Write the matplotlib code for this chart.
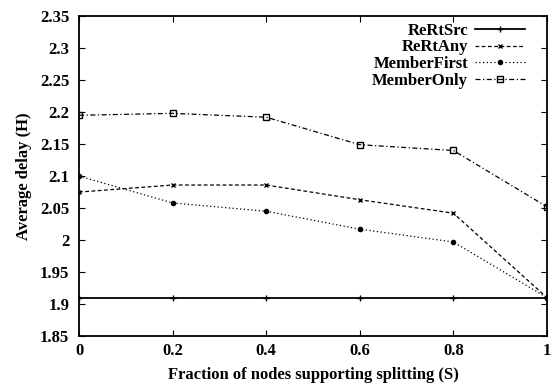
import matplotlib
matplotlib.use("Agg")
import matplotlib.pyplot as plt

plt.rcParams['font.family'] = ['Liberation Serif', 'DejaVu Serif']

fraction = [0, 0.2, 0.4, 0.6, 0.8, 1.0]
rertsrc = [1.91, 1.91, 1.91, 1.91, 1.91, 1.91]
rertany = [2.075, 2.086, 2.086, 2.063, 2.042, 1.91]
member_first = [2.10, 2.058, 2.045, 2.017, 1.997, 1.91]
member_only = [2.195, 2.198, 2.192, 2.149, 2.14, 2.052]

fig = plt.figure(figsize=(5.53, 3.84), dpi=100)
ax = fig.add_axes([0.143, 0.125, 0.846, 0.833])

ax.plot(fraction, rertsrc, color='black', lw=1.3, marker='+', ms=5, label='ReRtSrc')
ax.plot(fraction, rertany, color='black', lw=0.9, ls=(0, (3, 2)), marker='x', ms=3, label='ReRtAny')
ax.plot(fraction, member_first, color='black', lw=0.9, ls=(0, (1, 2)), marker='o', ms=3, label='MemberFirst')
ax.plot(fraction, member_only, color='black', lw=0.9, ls=(0, (4, 2, 1, 2)), marker='s', ms=4,
        mfc='none', label='MemberOnly')

ax.set_xlim(0, 1)
ax.set_ylim(1.85, 2.35)
ax.set_xticks(fraction)
ax.set_xticklabels(['0', '0.2', '0.4', '0.6', '0.8', '1'])
yt = [1.85, 1.9, 1.95, 2.0, 2.05, 2.1, 2.15, 2.2, 2.25, 2.3, 2.35]
ax.set_yticks(yt)
ax.set_yticklabels(['1.85', '1.9', '1.95', '2', '2.05', '2.1', '2.15', '2.2', '2.25', '2.3', '2.35'])
ax.tick_params(direction='in', top=True, right=True, labelsize=12, length=4)
ax.tick_params(axis='y', pad=7)
ax.tick_params(axis='x', pad=5)
for lbl in ax.get_xticklabels() + ax.get_yticklabels():
    lbl.set_fontweight('bold')
for s in ax.spines.values():
    s.set_linewidth(1.3)

ax.set_xlabel('Fraction of nodes supporting splitting (S)', fontsize=12, fontweight='bold', labelpad=6)
ax.set_ylabel('Average delay (H)', fontsize=12, fontweight='bold', labelpad=6)

ax.legend(loc='upper right', bbox_to_anchor=(0.953, 0.98), frameon=False, markerfirst=False,
          prop={'size': 12, 'weight': 'bold'}, handlelength=3, labelspacing=0.05,
          borderaxespad=0, borderpad=0, handletextpad=0.4)

fig.savefig('out.png', dpi=100)
